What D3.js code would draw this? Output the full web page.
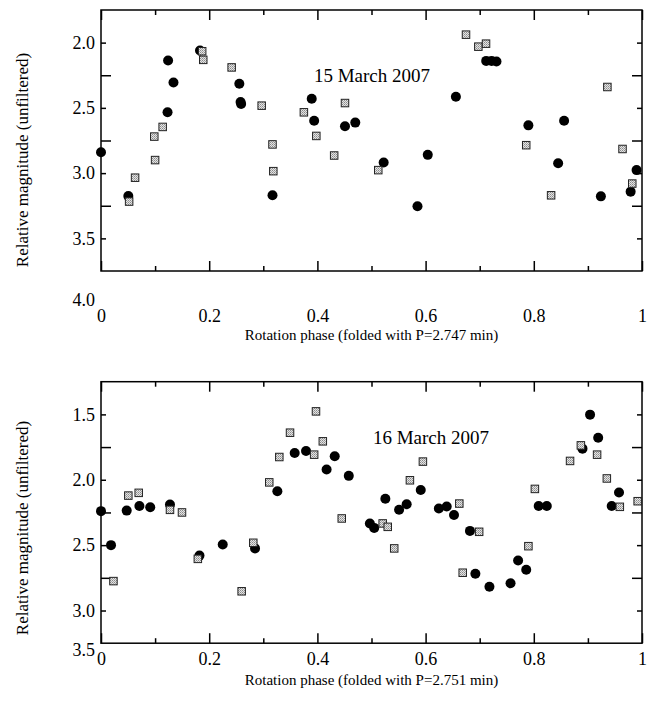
<!DOCTYPE html>
<html lang="en">
<head>
<meta charset="utf-8">
<script src="https://d3js.org/d3.v7.min.js"></script>
<style>
    body { margin: 0; background: #fff; }
    text { font-family: "Liberation Serif", "Times New Roman", serif; fill: #000; }
</style>
</head>
<body>
<div id="graph"></div>
<script>
    // [phase, relative magnitude]
    var mar15Dots = [[0.000,2.84],[0.0505,3.176],[0.123,2.534],[0.124,2.137],[0.134,2.305],[0.183,2.061],
        [0.2557,2.315],[0.258,2.455],[0.259,2.47],[0.317,3.17],[0.3895,2.43],[0.394,2.598],[0.451,2.641],
        [0.470,2.613],[0.5225,2.918],[0.585,3.254],[0.604,2.86],[0.656,2.415],[0.712,2.14],[0.722,2.14],
        [0.731,2.145],[0.790,2.634],[0.845,2.924],[0.856,2.598],[0.924,3.178],[0.979,3.142],[0.990,2.977]];
    var mar15Squares = [[0.052,3.218],[0.063,3.035],[0.0985,2.72],[0.1,2.90],[0.114,2.646],[0.187,2.066],
        [0.189,2.132],[0.2415,2.19],[0.297,2.483],[0.317,2.78],[0.3185,2.985],[0.375,2.534],[0.398,2.715],
        [0.431,2.865],[0.451,2.463],[0.5125,2.977],[0.6747,1.939],[0.6975,2.031],[0.7117,2.008],[0.786,2.786],
        [0.832,3.17],[0.936,2.34],[0.964,2.815],[0.982,3.08]];
    var mar16Dots = [[0,2.24],[0.0185,2.50],[0.0475,2.236],[0.071,2.20],[0.091,2.21],[0.1275,2.19],[0.182,2.58],
        [0.225,2.495],[0.2847,2.525],[0.326,2.088],[0.358,1.795],[0.379,1.78],[0.417,1.922],[0.432,1.82],
        [0.458,1.97],[0.497,2.334],[0.505,2.368],[0.5256,2.145],[0.551,2.229],[0.565,2.187],[0.591,2.078],
        [0.6245,2.22],[0.639,2.204],[0.6525,2.269],[0.682,2.391],[0.692,2.719],[0.718,2.818],[0.757,2.792],
        [0.771,2.617],[0.786,2.688],[0.809,2.20],[0.824,2.20],[0.890,1.762],[0.904,1.502],[0.919,1.678],
        [0.944,2.20],[0.9575,2.098]];
    var mar16Squares = [[0.023,2.775],[0.0505,2.121],[0.0697,2.10],[0.1275,2.23],[0.1497,2.25],[0.179,2.605],
        [0.260,2.853],[0.2815,2.482],[0.311,2.02],[0.3296,1.826],[0.3494,1.64],[0.394,1.808],[0.3974,1.477],
        [0.41,1.706],[0.445,2.296],[0.5207,2.334],[0.53,2.36],[0.542,2.525],[0.571,2.004],[0.595,1.861],
        [0.6623,2.182],[0.6686,2.711],[0.699,2.398],[0.790,2.508],[0.802,2.07],[0.867,1.856],[0.887,1.737],
        [0.917,1.808],[0.935,1.99],[0.959,2.207],[0.992,2.164]];

    var phaseTicks = [0, 0.2, 0.4, 0.6, 0.8, 1];
    var phaseLabels = ["0", "0.2", "0.4", "0.6", "0.8", "1"];
    var phaseMinor = [0.1, 0.3, 0.5, 0.7, 0.9];
    var mar15MagTicks = [2.0, 2.5, 3.0, 3.5];
    var mar15MagMinor = [2.25, 2.75, 3.25];
    var mar16MagTicks = [1.5, 2.0, 2.5, 3.0];
    var mar16MagMinor = [1.75, 2.25, 2.75];
    var cornerLabels = ["4.0", "3.5"];
    var dateLabels = ["15 March 2007", "16 March 2007"];
    var periods = ["2.747", "2.751"];

    var width = 650, height = 717,
        left = 101, right = 642,
        serif = "Liberation Serif, Times New Roman, serif";

    var svg = d3.select("#graph").append("svg")
        .attr("width", width)
        .attr("height", height);

    // grey dotted fill of the square markers
    var pat = svg.append("defs").append("pattern")
        .attr("id", "dots")
        .attr("patternUnits", "userSpaceOnUse")
        .attr("width", 2).attr("height", 2);
    pat.append("rect").attr("width", 2).attr("height", 2).attr("fill", "#e4e4e4");
    pat.append("rect").attr("width", 1).attr("height", 1).attr("fill", "#8a8a8a");
    pat.append("rect").attr("x", 1).attr("y", 1).attr("width", 1).attr("height", 1).attr("fill", "#a8a8a8");

    var panels = [
        {dots: mar15Dots, squares: mar15Squares, ticks: mar15MagTicks, minor: mar15MagMinor,
         domain: [1.75, 3.75], top: 10, bottom: 271, xPad: 38, cornerY: 300, titleY: 335,
         labelY: 160, date: [372, 75]},
        {dots: mar16Dots, squares: mar16Squares, ticks: mar16MagTicks, minor: mar16MagMinor,
         domain: [1.25, 3.25], top: 381.7, bottom: 643.2, xPad: 9, cornerY: 650, titleY: 680,
         labelY: 528, date: [431, 437]}
    ];

    var x = d3.scaleLinear().domain([0, 1]).range([left, right]);

    panels.forEach(function(p, i) {
        var y = d3.scaleLinear().domain(p.domain).range([p.top, p.bottom]);
        var g = svg.append("g");

        function styleAxis(sel) {
            sel.attr("font-family", serif).attr("font-size", 18);
            sel.select(".domain").remove();
            sel.selectAll("line").attr("stroke", "#000").attr("stroke-width", 1.5);
            sel.selectAll("text").style("font-size", "18px").style("font-family", serif);
        }

        // bottom & top x ticks
        g.append("g").attr("transform", "translate(0," + p.bottom + ")")
            .call(d3.axisBottom(x).tickValues(phaseTicks).tickSize(-10).tickPadding(p.xPad)
                .tickFormat(function(d, k) { return phaseLabels[k]; }))
            .call(styleAxis);
        g.append("g").attr("transform", "translate(0," + p.bottom + ")")
            .call(d3.axisBottom(x).tickValues(phaseMinor).tickSize(-5).tickFormat(""))
            .call(styleAxis);
        g.append("g").attr("transform", "translate(0," + p.top + ")")
            .call(d3.axisTop(x).tickValues(phaseTicks).tickSize(-10).tickFormat(""))
            .call(styleAxis);
        g.append("g").attr("transform", "translate(0," + p.top + ")")
            .call(d3.axisTop(x).tickValues(phaseMinor).tickSize(-5).tickFormat(""))
            .call(styleAxis);

        // left & right y ticks
        g.append("g").attr("transform", "translate(" + left + ",0)")
            .call(d3.axisLeft(y).tickValues(p.ticks).tickSize(-5).tickPadding(6)
                .tickFormat(d3.format(".1f")))
            .call(styleAxis);
        g.append("g").attr("transform", "translate(" + left + ",0)")
            .call(d3.axisLeft(y).tickValues(p.minor).tickSize(-10).tickFormat(""))
            .call(styleAxis);
        g.append("g").attr("transform", "translate(" + right + ",0)")
            .call(d3.axisRight(y).tickValues(p.ticks).tickSize(-5).tickFormat(""))
            .call(styleAxis);
        g.append("g").attr("transform", "translate(" + right + ",0)")
            .call(d3.axisRight(y).tickValues(p.minor).tickSize(-10).tickFormat(""))
            .call(styleAxis);

        // frame
        g.append("rect")
            .attr("x", left).attr("y", p.top)
            .attr("width", right - left).attr("height", p.bottom - p.top)
            .attr("fill", "none").attr("stroke", "#000").attr("stroke-width", 1.5);

        g.append("text")
            .attr("x", left - 6).attr("y", p.cornerY)
            .attr("dy", "0.35em")
            .attr("text-anchor", "end")
            .style("font-size", "18px")
            .text(cornerLabels[i]);

        // markers
        g.append("g").selectAll("circle")
            .data(p.dots).enter().append("circle")
            .attr("cx", function(d) { return x(d[0]); })
            .attr("cy", function(d) { return y(d[1]); })
            .attr("r", 5)
            .attr("fill", "#000");

        g.append("g").selectAll("rect")
            .data(p.squares).enter().append("rect")
            .attr("x", function(d) { return x(d[0]) - 3.75; })
            .attr("y", function(d) { return y(d[1]) - 3.75; })
            .attr("width", 7.5).attr("height", 7.5)
            .attr("fill", "url(#dots)")
            .attr("stroke", "#222").attr("stroke-width", 1);

        // texts
        g.append("text")
            .attr("x", p.date[0]).attr("y", p.date[1])
            .attr("dy", "0.35em")
            .attr("text-anchor", "middle")
            .style("font-size", "19px")
            .text(dateLabels[i]);

        g.append("text")
            .attr("x", (left + right) / 2).attr("y", p.titleY)
            .attr("dy", "0.35em")
            .attr("text-anchor", "middle")
            .style("font-size", "15px")
            .text("Rotation phase (folded with P=" + periods[i] + " min)");

        g.append("text")
            .attr("transform", "translate(22," + p.labelY + ") rotate(-90)")
            .attr("dy", "0.35em")
            .attr("text-anchor", "middle")
            .style("font-size", "17px")
            .text("Relative magnitude (unfiltered)");
    });
</script>
</body>
</html>
